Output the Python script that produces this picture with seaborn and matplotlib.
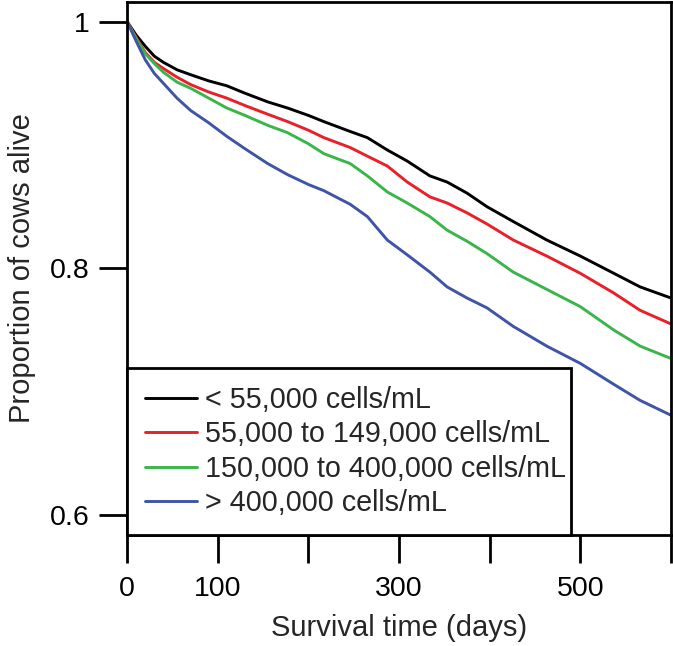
import pandas as pd
import matplotlib
matplotlib.use("Agg")
import matplotlib.pyplot as plt
import seaborn as sns

# days since start
days = [0, 10, 20, 30, 40, 55, 70, 90, 110, 130, 155, 177, 200, 217, 246, 265,
        287, 309, 334, 353, 375, 397, 426, 463, 500, 537, 566, 600]

scc_low = [1.0, 0.989, 0.980, 0.972, 0.967, 0.961, 0.957, 0.952, 0.948, 0.942,
           0.935, 0.930, 0.924, 0.919, 0.911, 0.906, 0.896, 0.887, 0.875, 0.870,
           0.861, 0.850, 0.838, 0.823, 0.810, 0.796, 0.785, 0.776]
scc_mid = [1.0, 0.987, 0.975, 0.967, 0.962, 0.955, 0.949, 0.943, 0.938, 0.932,
           0.925, 0.919, 0.912, 0.906, 0.898, 0.891, 0.883, 0.870, 0.858, 0.853,
           0.845, 0.836, 0.823, 0.810, 0.796, 0.780, 0.766, 0.755]
scc_high = [1.0, 0.986, 0.974, 0.966, 0.959, 0.951, 0.946, 0.938, 0.930, 0.924,
            0.916, 0.910, 0.901, 0.893, 0.885, 0.875, 0.862, 0.853, 0.842, 0.831,
            0.822, 0.812, 0.797, 0.783, 0.769, 0.750, 0.737, 0.727]
scc_vhigh = [1.0, 0.984, 0.969, 0.958, 0.950, 0.938, 0.928, 0.918, 0.907, 0.897,
             0.885, 0.876, 0.868, 0.863, 0.852, 0.842, 0.823, 0.811, 0.797, 0.785,
             0.776, 0.768, 0.753, 0.737, 0.723, 0.706, 0.693, 0.681]

groups = ["< 55,000 cells/mL", "55,000 to 149,000 cells/mL",
          "150,000 to 400,000 cells/mL", "> 400,000 cells/mL"]
colors = ["#000000", "#e8202a", "#3ab54a", "#3f54a5"]

df = pd.concat([
    pd.DataFrame({"days": days, "alive": vals, "group": g})
    for g, vals in zip(groups, [scc_low, scc_mid, scc_high, scc_vhigh])
])

sns.set_style("ticks")
plt.rcParams["font.family"] = ["Liberation Sans", "DejaVu Sans"]

fig = plt.figure(figsize=(6.73, 6.46), dpi=100)
ax = fig.add_axes([0.189, 0.172, 0.808, 0.825])

sns.lineplot(data=df, x="days", y="alive", hue="group", hue_order=groups,
             palette=colors, linewidth=2.1, ax=ax)

ax.set_xlim(0, 600)
ax.set_ylim(0.584, 1.016)
ax.set_xticks([0, 100, 200, 300, 400, 500, 600])
ax.set_xticklabels(["0", "100", "", "300", "", "500", ""])
ax.set_yticks([0.6, 0.8, 1.0])
ax.set_yticklabels(["0.6", "0.8", "1"])
ax.tick_params(axis="both", direction="out", length=20.5, width=2,
               labelsize=20.5, colors="black")
ax.tick_params(axis="x", pad=9)
ax.tick_params(axis="y", pad=6.5)
for sp in ax.spines.values():
    sp.set_visible(True)
    sp.set_linewidth(2)
    sp.set_color("black")

ax.set_xlabel("Survival time (days)", fontsize=21, labelpad=9)
ax.set_ylabel("Proportion of cows alive", fontsize=21, labelpad=10)

leg = ax.legend(loc="lower left", bbox_to_anchor=(0, 0, 0.816, 0.315),
                mode="expand", borderaxespad=0, fontsize=20.7, frameon=True,
                fancybox=False, framealpha=1, edgecolor="black",
                handlelength=1.8, handletextpad=0.3, labelspacing=0.22,
                borderpad=0.62, title=None)
leg.get_frame().set_linewidth(2)

fig.savefig("out.png", dpi=100)
